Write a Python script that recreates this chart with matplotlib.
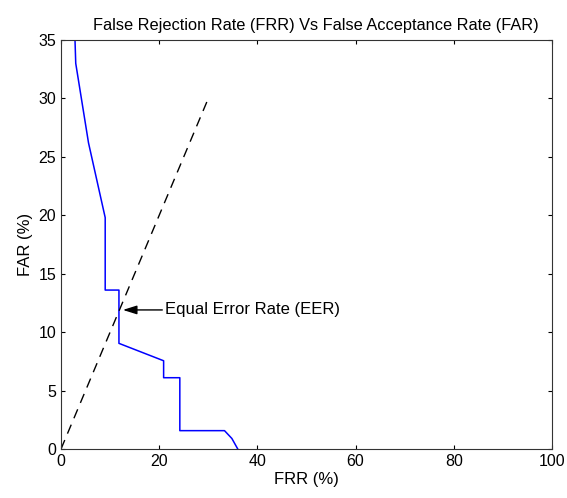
import matplotlib
matplotlib.use("Agg")
import matplotlib.pyplot as plt

# Blue ROC-like curve (FRR %, FAR %)
frr = [2.85, 3.0, 5.6, 9.0, 9.0, 11.8, 11.8, 20.9, 20.9, 24.2, 24.2, 33.3, 34.8, 36.0]
far = [35.0, 33.0, 26.2, 19.8, 13.6, 13.6, 9.04, 7.55, 6.1, 6.1, 1.57, 1.57, 0.9, 0.0]

# Dashed reference line (FRR = FAR)
diag_x = [0, 30]
diag_y = [0, 30]

# EER annotation
eer_point = (12.6, 11.9)
eer_text_pos = (21.2, 11.9)
eer_label = "Equal Error Rate (EER)"

xticks = [0, 20, 40, 60, 80, 100]
yticks = [0, 5, 10, 15, 20, 25, 30, 35]

plt.rcParams['font.family'] = ['Liberation Sans', 'DejaVu Sans']

fig = plt.figure(figsize=(5.67, 4.98), dpi=100)
ax = fig.add_axes([0.1076, 0.0984, 0.8659, 0.8213])

ax.plot(frr, far, color='#0000ff', lw=1.1)
ax.plot(diag_x, diag_y, color='black', lw=1.0, ls=(0, (7, 5)))

ax.annotate(eer_label, xy=eer_point, xytext=eer_text_pos,
            fontsize=12, va='center', ha='left',
            arrowprops=dict(arrowstyle='-|>,head_length=0.7,head_width=0.22',
                            color='black', lw=1.0, shrinkA=0, shrinkB=0))

ax.set_xlim(0, 100)
ax.set_ylim(0, 35)
ax.set_xticks(xticks)
ax.set_yticks(yticks)
for s in ax.spines.values():
    s.set_color('#333333')
ax.tick_params(direction='in', top=True, right=True, labelsize=11.5, length=3)
ax.set_xlabel('FRR (%)', fontsize=12, labelpad=2)
ax.set_ylabel('FAR (%)', fontsize=12, labelpad=4)
ax.set_title('False Rejection Rate (FRR) Vs False Acceptance Rate (FAR)', fontsize=11.8, pad=7, x=0.52)

fig.savefig('out.png', dpi=100)
